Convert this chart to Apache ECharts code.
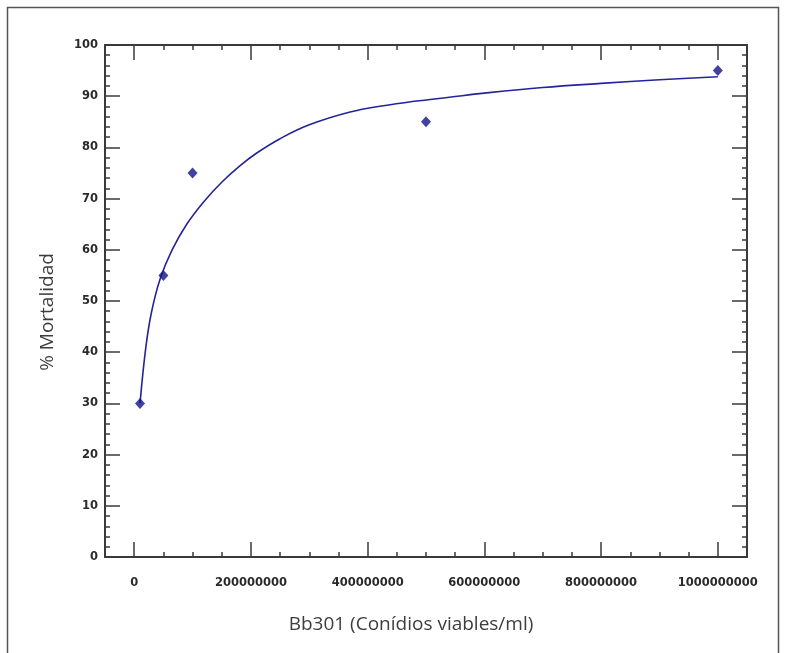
<!DOCTYPE html>
<html>
<head>
<meta charset="utf-8">
<script src="https://cdn.jsdelivr.net/npm/echarts@6/dist/echarts.min.js"></script>
<style>
  html, body { margin: 0; padding: 0; background: #fff; }
  #chart { width: 785px; height: 653px; }
</style>
</head>
<body>
<div id="chart"></div>
<script>
// Observed data points (conidia/ml, % mortality)
const pointX = [10e6, 50e6, 100e6, 500e6, 1000e6];
const pointY = [30, 55, 75, 85, 95];

// Fitted curve
const curveX = [10e6, 20e6, 30e6, 45e6, 65e6, 90e6, 120e6, 150e6, 180e6, 210e6, 250e6, 300e6, 370e6, 430e6, 480e6, 540e6, 600e6, 700e6, 800e6, 900e6, 1000e6];
const curveY = [30, 41, 48, 54.5, 60, 65, 69.5, 73.2, 76.3, 78.9, 81.7, 84.4, 86.9, 88.2, 89.0, 89.8, 90.6, 91.7, 92.5, 93.2, 93.8];

// Axis ticks
const xTickValues = [0, 200e6, 400e6, 600e6, 800e6, 1000e6];
const xTickLabels = ['0', '200000000', '400000000', '600000000', '800000000', '1000000000'];
const xMinorValues = [-50e6, 50e6, 100e6, 150e6, 250e6, 300e6, 350e6, 450e6, 500e6, 550e6, 650e6, 700e6, 750e6, 850e6, 900e6, 950e6, 1050e6];
const yTickLabels = ['0', '10', '20', '30', '40', '50', '60', '70', '80', '90', '100'];

const xTitle = 'Bb301 (Conídios viables/ml)';
const yTitle = '% Mortalidad';

const axisColor = '#3a3a3a';
const markColor = '#12128a';

function xAxisDef(position, major, withLabels) {
  return {
    type: 'value',
    position: position,
    min: -50e6,
    max: 1050e6,
    splitLine: { show: false },
    axisLine: { show: major, onZero: false, lineStyle: { color: axisColor, width: 2 } },
    axisTick: {
      show: true, inside: true, length: major ? 15 : 5,
      customValues: major ? xTickValues : xMinorValues,
      lineStyle: { color: axisColor, width: 1.5 }
    },
    axisLabel: withLabels ? {
      show: true, margin: 20,
      customValues: xTickValues,
      formatter: function (v) { const i = xTickValues.indexOf(v); return i >= 0 ? xTickLabels[i] : ''; },
      fontFamily: 'DejaVu Sans', fontWeight: 'bold', fontSize: 11.5, color: '#2a2a2a'
    } : { show: false }
  };
}

function yAxisDef(position, withLabels) {
  return {
    type: 'value',
    position: position,
    min: 0, max: 100, interval: 10,
    splitLine: { show: false },
    axisLine: { show: true, onZero: false, lineStyle: { color: axisColor, width: 2 } },
    axisTick: { show: true, inside: true, length: 15, lineStyle: { color: axisColor, width: 1.5 } },
    minorTick: { show: true, splitNumber: 5, length: 5, lineStyle: { color: axisColor, width: 1.5 } },
    axisLabel: withLabels ? {
      show: true, margin: 7,
      formatter: function (v) { return yTickLabels[Math.round(v / 10)]; },
      fontFamily: 'DejaVu Sans', fontWeight: 'bold', fontSize: 11.5, color: '#2a2a2a'
    } : { show: false }
  };
}

const chart = echarts.init(document.getElementById('chart'), null, { renderer: 'canvas' });
chart.setOption({
  animation: false,
  backgroundColor: '#ffffff',
  grid: { left: 105, right: 38, top: 45, bottom: 96, containLabel: false },
  xAxis: [
    xAxisDef('bottom', true, true),
    xAxisDef('bottom', false, false),
    xAxisDef('top', true, false),
    xAxisDef('top', false, false)
  ],
  yAxis: [
    yAxisDef('left', true),
    yAxisDef('right', false)
  ],
  graphic: [
    {
      type: 'rect', silent: true, z: 100,
      shape: { x: 7.5, y: 7.5, width: 771, height: 700 },
      style: { fill: 'none', stroke: '#555', lineWidth: 1.5 }
    },
    {
      type: 'text', silent: true, z: 100,
      x: 411, y: 625,
      style: { text: xTitle, align: 'center', verticalAlign: 'middle', fontFamily: 'Open Sans', fontSize: 19, fill: '#3d3d3d' }
    },
    {
      type: 'text', silent: true, z: 100,
      x: 48, y: 312, rotation: Math.PI / 2,
      style: { text: yTitle, align: 'center', verticalAlign: 'middle', fontFamily: 'Open Sans', fontSize: 19, fill: '#3d3d3d' }
    }
  ],
  series: [
    {
      type: 'line',
      xAxisIndex: 0, yAxisIndex: 0,
      data: curveX.map(function (x, i) { return [x, curveY[i]]; }),
      smooth: 0.4,
      showSymbol: false,
      lineStyle: { color: '#24249a', width: 1.6 },
      z: 2
    },
    {
      type: 'scatter',
      xAxisIndex: 0, yAxisIndex: 0,
      data: pointX.map(function (x, i) { return [x, pointY[i]]; }),
      symbol: 'diamond',
      symbolSize: [10, 11],
      itemStyle: { color: markColor },
      z: 3
    }
  ]
});
</script>
</body>
</html>
